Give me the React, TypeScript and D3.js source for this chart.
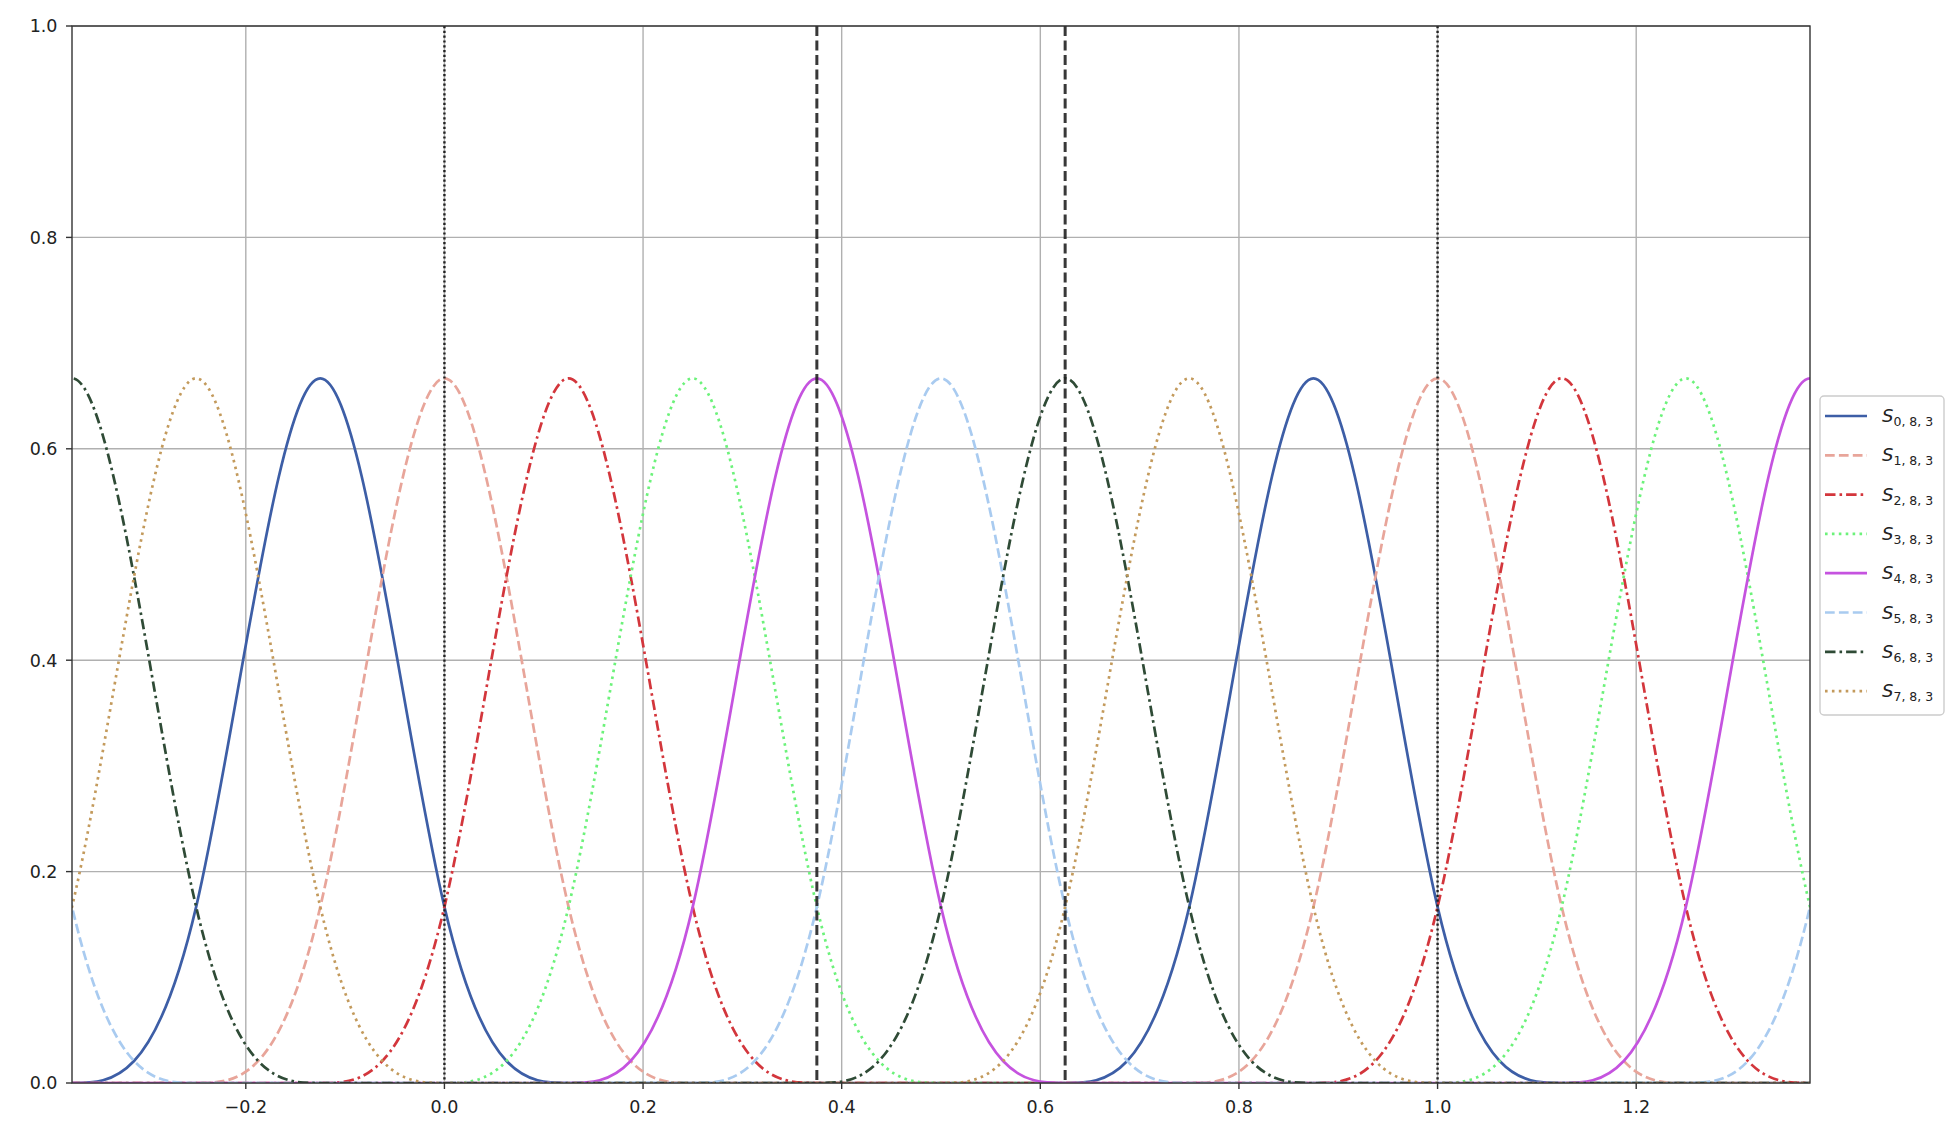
import React from "react";
import * as d3 from "d3";

// Uniform knot grid (control-point abscissae, spacing 1/8), padded beyond the visible range
const controlX = [
  -0.875, -0.75, -0.625, -0.5, -0.375, -0.25, -0.125, 0, 0.125, 0.25, 0.375, 0.5,
  0.625, 0.75, 0.875, 1.0, 1.125, 1.25, 1.375, 1.5, 1.625, 1.75, 1.875,
];

// Peak positions of each periodic cubic B-spline basis function
const peaksS0 = [-0.125, 0.875, 1.875];
const peaksS1 = [0.0, 1.0];
const peaksS2 = [-0.875, 0.125, 1.125];
const peaksS3 = [-0.75, 0.25, 1.25];
const peaksS4 = [-0.625, 0.375, 1.375];
const peaksS5 = [-0.5, 0.5, 1.5];
const peaksS6 = [-0.375, 0.625, 1.625];
const peaksS7 = [-0.25, 0.75, 1.75];

const seriesIndex = ["0", "1", "2", "3", "4", "5", "6", "7"];
const seriesPeaks = [peaksS0, peaksS1, peaksS2, peaksS3, peaksS4, peaksS5, peaksS6, peaksS7];
const seriesColors = ["#3d5ea6", "#e8a59a", "#d3363c", "#6cf27a", "#c553df", "#a9cbf0", "#2f4b36", "#c39a5c"];
const seriesStyles = ["solid", "dashed", "dashdot", "dotted", "solid", "dashed", "dashdot", "dotted"];

const xTicks = [-0.2, 0.0, 0.2, 0.4, 0.6, 0.8, 1.0, 1.2];
const yTicks = [0.0, 0.2, 0.4, 0.6, 0.8, 1.0];
const dottedVLines = [0.0, 1.0];
const dashedVLines = [0.375, 0.625];

const xDomain = [-0.375, 1.375];
const yDomain = [0, 1];

const W = 1954;
const H = 1146;
const L = 72, R = 1810, T = 26, B = 1083;
const FONT = "DejaVu Sans, sans-serif";

const dash: Record<string, string | undefined> = {
  solid: undefined,
  dashed: "9.7 4.2",
  dashdot: "10.5 4 2.6 4",
  dotted: "2.6 4.3",
};

function fmt(v: number) {
  const s = v.toFixed(1);
  return s.startsWith("-") ? "\u2212" + s.slice(1) : s;
}

export default function App() {
  const x = d3.scaleLinear().domain(xDomain).range([L, R]);
  const y = d3.scaleLinear().domain(yDomain).range([B, T]);
  const line = d3
    .line<[number, number]>()
    .x((d) => x(d[0]))
    .y((d) => y(d[1]))
    .curve(d3.curveBasis);

  const paths = seriesPeaks.map((peaks) => {
    const pts: [number, number][] = controlX.map((cx) => [
      cx,
      peaks.some((p) => Math.abs(p - cx) < 1e-9) ? 1 : 0,
    ]);
    return line(pts) || "";
  });

  const legX = 1820, legY = 396, legW = 124, legH = 319;
  const rowH = 39.3;

  return (
    <svg
      width={W}
      height={H}
      style={{ position: "absolute", left: 0, top: 0, display: "block", background: "#fff" }}
      fontFamily={FONT}
    >
      <defs>
        <clipPath id="plotclip">
          <rect x={L} y={T} width={R - L} height={B - T} />
        </clipPath>
      </defs>
      <rect x={0} y={0} width={W} height={H} fill="#fff" />
      {/* grid */}
      {xTicks.map((t) => (
        <line key={"gx" + t} x1={x(t)} x2={x(t)} y1={T} y2={B} stroke="#b0b0b0" strokeWidth={1.4} />
      ))}
      {yTicks.map((t) => (
        <line key={"gy" + t} x1={L} x2={R} y1={y(t)} y2={y(t)} stroke="#b0b0b0" strokeWidth={1.4} />
      ))}
      {/* curves */}
      <g clipPath="url(#plotclip)">
        {paths.map((d, i) => (
          <path
            key={"s" + i}
            d={d}
            fill="none"
            stroke={seriesColors[i]}
            strokeWidth={2.7}
            strokeDasharray={dash[seriesStyles[i]]}
          />
        ))}
        {dottedVLines.map((v) => (
          <line key={"dv" + v} x1={x(v)} x2={x(v)} y1={T} y2={B} stroke="#222" strokeWidth={2.4} strokeDasharray="2.2 2.6" />
        ))}
        {dashedVLines.map((v) => (
          <line key={"dd" + v} x1={x(v)} x2={x(v)} y1={T} y2={B} stroke="#222" strokeOpacity={0.9} strokeWidth={3} strokeDasharray="10 4.5" />
        ))}
      </g>
      {/* spines */}
      <rect x={L} y={T} width={R - L} height={B - T} fill="none" stroke="#333" strokeWidth={1.4} />
      {/* ticks */}
      {xTicks.map((t) => (
        <g key={"xt" + t}>
          <line x1={x(t)} x2={x(t)} y1={B} y2={B + 6} stroke="#333" strokeWidth={1.4} />
          <text x={x(t)} y={B + 30} textAnchor="middle" fontSize={17.5} fill="#222">
            {fmt(t)}
          </text>
        </g>
      ))}
      {yTicks.map((t) => (
        <g key={"yt" + t}>
          <line x1={L - 6} x2={L} y1={y(t)} y2={y(t)} stroke="#333" strokeWidth={1.4} />
          <text x={L - 14.5} y={y(t) + 6.3} textAnchor="end" fontSize={17.5} fill="#222">
            {fmt(t)}
          </text>
        </g>
      ))}
      {/* legend */}
      <rect x={legX} y={legY} width={legW} height={legH} rx={4} fill="#fff" fillOpacity={0.8} stroke="#cccccc" strokeWidth={1.4} />
      {seriesIndex.map((s, i) => {
        const cy = legY + 20 + i * rowH;
        return (
          <g key={"lg" + i}>
            <line
              x1={1825}
              x2={1867}
              y1={cy}
              y2={cy}
              stroke={seriesColors[i]}
              strokeWidth={2.7}
              strokeDasharray={dash[seriesStyles[i]]}
            />
            <text x={1882} y={cy + 6} fontSize={18} fill="#222">
              <tspan fontStyle="italic">S</tspan>
              <tspan fontSize={12.5} dy={4}>{s + ", 8, 3"}</tspan>
            </text>
          </g>
        );
      })}
    </svg>
  );
}
